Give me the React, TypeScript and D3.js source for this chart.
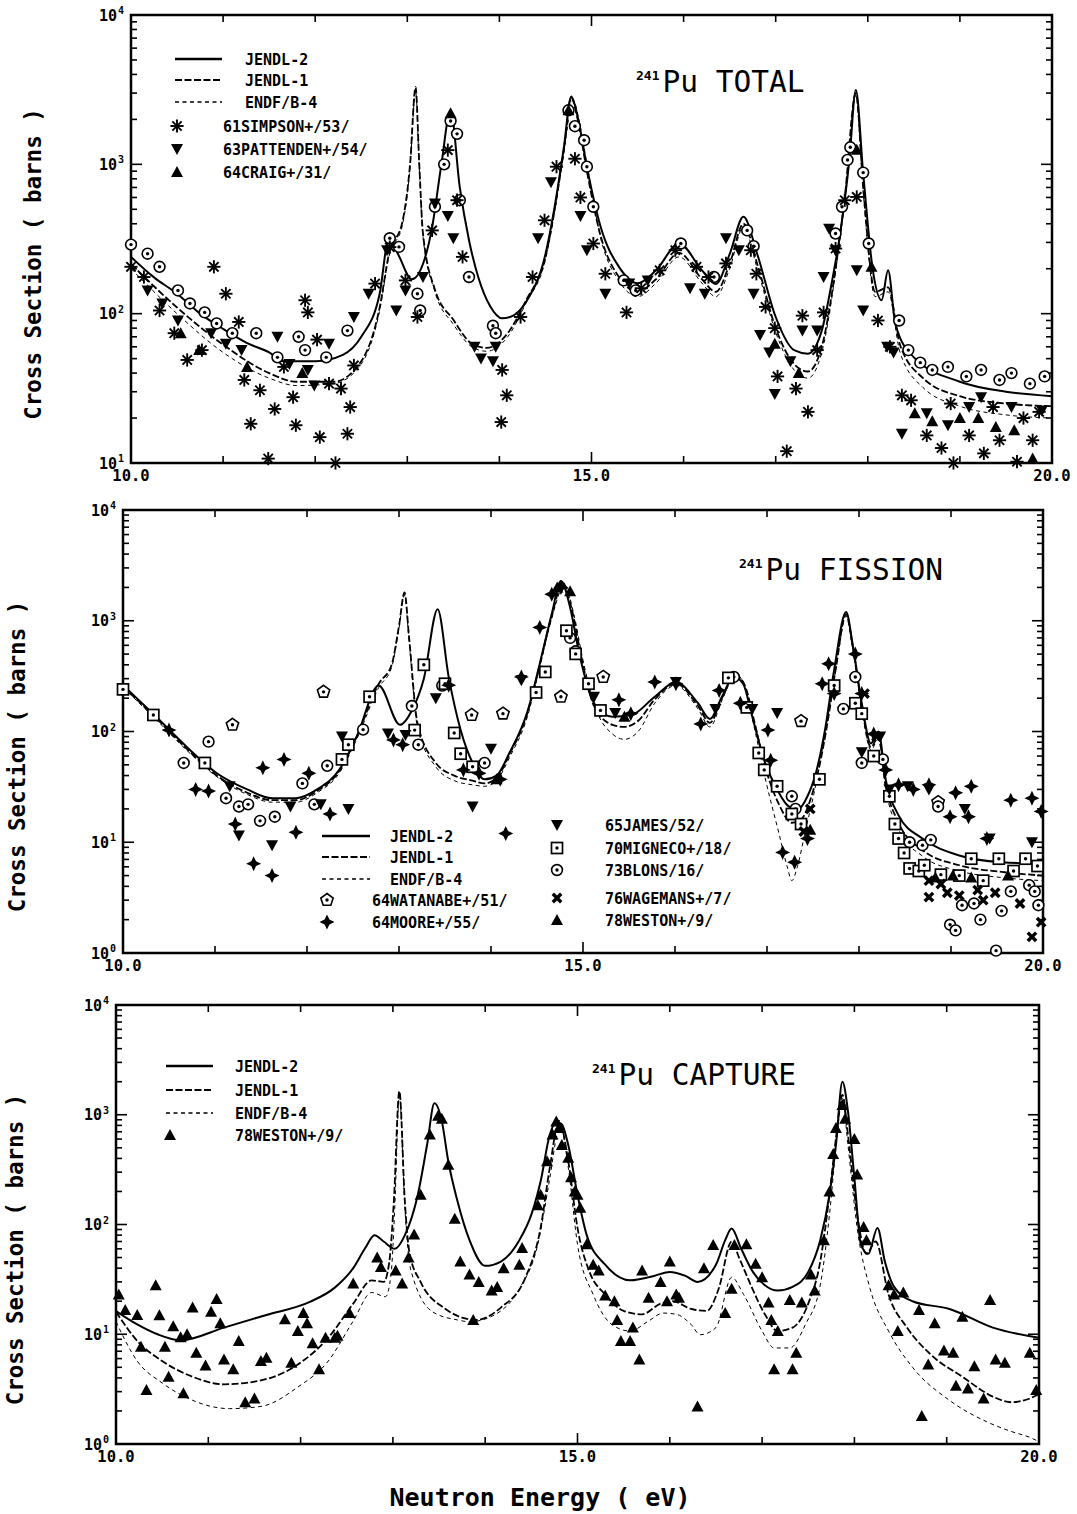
import React, { useEffect } from "react";
import * as d3 from "d3";

type Pt = [number, number];

// ---------- 241Pu TOTAL (energy eV, barns) ----------
const totJendl2: Pt[] = [[10.0,240],[10.25,175],[10.5,136],[10.75,100],[11.0,79],[11.25,64],[11.5,55],[11.66,48],[12.0,48],[12.3,53],[12.5,70],[12.7,136],[12.8,320],[12.9,250],[13.05,170],[13.17,215],[13.27,380],[13.37,1000],[13.47,2300],[13.57,700],[13.67,310],[13.77,176],[13.9,112],[14.03,93],[14.15,97],[14.3,123],[14.5,250],[14.6,520],[14.7,1300],[14.78,2850],[14.85,2080],[14.95,960],[15.1,380],[15.3,205],[15.5,160],[15.7,195],[15.95,295],[16.2,195],[16.35,158],[16.5,250],[16.65,445],[16.8,250],[17.0,95],[17.2,57],[17.35,54],[17.5,77],[17.6,151],[17.7,345],[17.8,1070],[17.87,3150],[17.95,870],[18.05,205],[18.15,123],[18.22,195],[18.3,85],[18.5,51],[19.0,35],[19.5,30],[20.0,28]];
const totJendl1: Pt[] = [[10.0,215],[10.5,110],[11.0,62],[11.5,40],[11.8,35],[12.2,35],[12.5,48],[12.7,110],[12.8,250],[12.95,420],[13.03,1000],[13.09,3300],[13.13,1000],[13.17,345],[13.3,145],[13.5,91],[13.7,63],[13.86,59],[14.09,74],[14.29,123],[14.5,240],[14.6,500],[14.7,1250],[14.78,2800],[14.85,2000],[14.95,900],[15.1,330],[15.3,175],[15.5,140],[15.7,170],[15.95,255],[16.2,170],[16.35,140],[16.5,215],[16.65,400],[16.8,215],[17.0,80],[17.2,46],[17.35,41],[17.5,60],[17.65,200],[17.75,600],[17.87,3000],[17.95,700],[18.08,140],[18.22,150],[18.35,62],[18.6,37],[19.0,28],[19.5,25],[20.0,24]];
const totEndf: Pt[] = [[10.0,200],[10.5,100],[11.0,55],[11.5,37],[11.8,33],[12.2,34],[12.5,46],[12.7,105],[12.8,240],[12.95,400],[13.03,950],[13.09,3100],[13.13,950],[13.17,330],[13.3,140],[13.5,85],[13.7,60],[13.86,56],[14.09,70],[14.29,118],[14.5,230],[14.6,480],[14.7,1200],[14.8,2700],[14.87,1900],[14.97,850],[15.1,320],[15.3,165],[15.5,130],[15.7,160],[15.95,240],[16.2,160],[16.35,130],[16.5,200],[16.65,380],[16.8,200],[17.0,75],[17.2,42],[17.35,37],[17.5,55],[17.65,190],[17.75,580],[17.87,2900],[17.95,650],[18.08,130],[18.22,140],[18.35,55],[18.6,32],[19.0,24],[19.5,21],[20.0,20]];
const totSimpson: Pt[] = [[10.0,206],[10.14,176],[10.31,105],[10.47,74],[10.61,49],[10.77,57],[10.9,206],[11.03,136],[11.17,88],[11.23,36],[11.3,18.3],[11.4,30.7],[11.56,23],[11.49,10.7],[11.66,44],[11.76,27.6],[11.79,17.9],[11.89,123],[11.92,102],[12.02,67],[12.05,14.9],[12.15,34],[12.22,10],[12.28,31.5],[12.35,15.7],[12.38,23.7],[12.42,45],[12.65,159],[12.81,279],[12.98,167],[13.11,95],[13.27,361],[13.44,1245],[13.54,575],[13.6,240],[14.03,42],[14.08,28.4],[14.02,18.8],[14.23,95],[14.36,176],[14.49,422],[14.62,964],[14.82,1090],[14.88,600],[15.02,295],[15.15,185],[15.38,102],[15.54,148],[15.74,195],[15.91,266],[16.14,206],[16.27,176],[16.46,217],[16.73,266],[16.79,185],[16.89,111],[16.99,80],[17.02,38],[17.12,12],[17.22,31.5],[17.29,97],[17.35,22],[17.45,57],[17.52,102],[17.65,273],[17.75,575],[17.88,605],[18.11,90],[18.24,60],[18.37,28.4],[18.47,26.3],[18.64,15.3],[18.8,12.6],[18.9,25],[18.93,10],[19.1,15.3],[19.26,11.6],[19.36,23.7],[19.43,14.2],[19.62,10.2],[19.69,20],[19.79,14.2],[19.86,22]];
const totPattenden: Pt[] = [[10.18,143],[10.34,117],[10.51,90],[10.87,74],[11.03,63],[11.2,57],[11.59,70],[11.72,46],[11.92,42],[11.99,33],[12.15,63],[12.42,95],[12.58,136],[12.78,266],[12.88,105],[12.98,143],[13.17,176],[13.3,546],[13.44,450],[13.5,320],[13.73,60],[13.8,50],[13.93,48],[13.96,60],[14.42,320],[14.56,760],[14.88,450],[14.95,266],[15.15,136],[15.41,159],[15.61,167],[16.07,148],[16.23,136],[16.46,320],[16.6,266],[16.76,136],[16.83,72],[16.93,55],[16.99,29],[17.16,48],[17.29,77],[17.45,77],[17.52,176],[17.58,370],[17.65,266],[17.88,195],[17.95,105],[18.21,60],[18.28,55],[18.37,15.7],[18.64,21.5],[18.87,17.9],[19.1,23.7],[19.23,27.6],[19.56,23.7],[19.89,22.5]];
const totCraig: Pt[] = [[10.54,74],[10.74,57],[11.26,44],[11.86,40],[13.47,2200],[14.75,2300],[16.99,63],[17.25,40],[17.88,1250],[18.04,206],[18.51,21.5],[18.7,19],[19.0,20],[19.2,20],[19.39,17.4],[19.59,16.6],[19.79,10.7]];
const totCircles: Pt[] = [[10.0,290],[10.18,252],[10.31,206],[10.51,143],[10.64,117],[10.8,102],[10.93,86],[11.1,74],[11.36,74],[11.59,51],[11.82,70],[11.89,57],[12.12,51],[12.35,77],[12.81,320],[12.91,280],[13.11,136],[13.14,105],[13.3,520],[13.4,1000],[13.47,1950],[13.54,1600],[13.57,575],[13.67,176],[13.93,83],[13.96,74],[14.75,2300],[14.82,1800],[14.92,1450],[14.95,964],[15.02,520],[15.35,167],[15.48,143],[15.97,295],[16.33,176],[16.69,361],[16.76,283],[17.65,344],[17.72,520],[17.78,1070],[17.81,1300],[17.95,880],[18.01,295],[18.34,90],[18.44,57],[18.57,47],[18.7,42],[18.87,44],[19.07,38],[19.23,42],[19.43,36],[19.56,40],[19.76,34],[19.92,38]];

// ---------- 241Pu FISSION ----------
const fisJendl2: Pt[] = [[10.0,262],[10.36,136],[10.69,73],[11.02,42],[11.35,30],[11.62,25],[11.88,25],[12.11,30],[12.35,45],[12.54,90],[12.78,260],[13.01,115],[13.14,155],[13.27,300],[13.42,1270],[13.54,311],[13.67,103],[13.8,52],[13.93,37],[14.06,40],[14.2,64],[14.4,155],[14.53,409],[14.66,1150],[14.76,2280],[14.86,1320],[14.96,502],[15.12,180],[15.32,136],[15.52,140],[15.78,206],[16.01,280],[16.25,180],[16.38,130],[16.51,206],[16.64,311],[16.74,270],[16.84,136],[16.97,55],[17.11,30],[17.24,21],[17.34,20],[17.44,26],[17.54,45],[17.63,103],[17.73,360],[17.86,1200],[17.93,622],[18.03,180],[18.13,78],[18.21,100],[18.29,37],[18.43,17.5],[18.69,10.8],[19.09,7.6],[19.55,6.6],[20.0,6.4]];
const fisJendl1: Pt[] = [[10.0,255],[10.36,132],[10.69,70],[11.02,40],[11.35,28],[11.62,24],[11.88,24],[12.11,29],[12.35,44],[12.54,90],[12.78,270],[12.92,400],[13.0,900],[13.06,1800],[13.11,700],[13.2,120],[13.4,52],[13.6,40],[13.8,36],[13.93,34],[14.06,38],[14.2,62],[14.4,150],[14.53,400],[14.66,1100],[14.78,2200],[14.88,1250],[14.98,480],[15.12,170],[15.32,115],[15.45,110],[15.6,125],[15.78,195],[16.01,270],[16.25,170],[16.38,120],[16.51,200],[16.66,320],[16.76,260],[16.86,125],[16.99,45],[17.13,22],[17.27,15],[17.37,16],[17.47,24],[17.56,45],[17.65,110],[17.75,380],[17.86,1150],[17.93,600],[18.03,170],[18.13,72],[18.21,90],[18.29,33],[18.43,15],[18.69,8.5],[19.09,6.2],[19.55,5.4],[20.0,5.0]];
const fisEndf: Pt[] = [[10.0,250],[10.36,128],[10.69,68],[11.02,39],[11.35,27],[11.62,23],[11.88,23],[12.11,28],[12.35,42],[12.54,85],[12.78,250],[12.92,380],[13.0,850],[13.06,1700],[13.11,650],[13.2,110],[13.4,48],[13.6,36],[13.8,33],[13.93,32],[14.06,36],[14.2,58],[14.4,140],[14.53,380],[14.66,1050],[14.8,2100],[14.9,1150],[15.0,440],[15.14,160],[15.32,95],[15.45,85],[15.6,100],[15.78,180],[16.01,260],[16.25,160],[16.38,110],[16.51,190],[16.66,330],[16.76,250],[16.86,110],[16.99,35],[17.13,12],[17.22,6],[17.27,4.5],[17.33,6],[17.42,13],[17.52,30],[17.63,95],[17.75,370],[17.86,1100],[17.93,560],[18.03,160],[18.13,68],[18.21,85],[18.29,30],[18.43,13],[18.69,7.5],[19.09,5.5],[19.55,4.8],[20.0,4.5]];
const fisWatanabe: Pt[] = [[11.19,115],[12.18,228],[13.79,141],[14.13,145],[14.76,206],[15.22,311],[17.37,124],[18.86,23]];
const fisMoore: Pt[] = [[10.5,103],[10.79,30],[10.93,29],[11.22,14.6],[11.42,6.4],[11.62,5.0],[11.52,47],[11.75,56],[11.88,12.3],[12.02,42],[12.25,18],[12.94,84],[13.04,76],[13.54,262],[13.7,45],[13.87,42],[14.1,37],[14.16,12],[14.33,311],[14.53,870],[14.66,1735],[14.76,2000],[15.39,193],[15.52,145],[15.78,280],[16.01,270],[16.28,117],[16.48,235],[16.71,180],[17.01,103],[17.04,55],[17.17,8.1],[17.3,6.6],[17.44,10.8],[17.6,270],[17.67,409],[17.73,220],[17.96,500],[18.03,220],[18.16,95],[18.29,45],[18.43,33],[18.59,30],[18.76,33],[18.99,17],[19.05,28],[19.19,17],[19.22,32],[19.39,10.8],[19.65,24],[19.88,25],[19.98,19]];
const fisJames: Pt[] = [[11.16,32],[11.26,11.5],[11.62,9.4],[11.82,21],[12.15,22],[12.45,20],[12.38,90],[12.88,96],[13.07,93],[13.4,200],[13.8,21],[14.0,70],[14.33,290],[15.12,206],[15.35,147],[16.01,280],[16.44,160],[16.84,160],[17.11,147],[18.03,65],[18.23,90],[18.33,30],[18.53,32],[18.76,30],[19.15,20],[19.42,10.8],[19.88,10]];
const fisMigneco: Pt[] = [[10.0,240],[10.33,141],[10.89,52],[12.45,76],[12.38,56],[12.68,206],[13.17,103],[13.27,400],[13.5,270],[13.6,97],[13.67,63],[13.8,48],[14.49,225],[14.59,345],[14.82,813],[14.92,502],[15.06,270],[15.19,155],[16.58,305],[16.78,165],[16.91,64],[16.97,45],[17.11,32],[17.27,18],[17.37,14.6],[17.57,37],[17.73,260],[17.96,180],[18.03,145],[18.16,60],[18.33,26],[18.39,14.6],[18.43,10.8],[18.49,8],[18.55,5.8],[18.65,5.5],[18.71,6.2],[18.89,5.1],[19.09,5],[19.22,7.1],[19.35,4.5],[19.52,7.1],[19.68,5.5],[19.81,7.1],[19.94,6.1]];
const fisBlons: Pt[] = [[10.66,52],[10.93,81],[11.12,25],[11.26,21],[11.36,22],[11.49,15.6],[11.65,17],[11.95,34],[12.08,22],[12.22,49],[12.61,104],[13.14,170],[13.21,76],[13.47,260],[13.93,52],[14.86,700],[14.92,530],[16.64,311],[17.27,26],[17.31,20],[17.83,160],[17.96,311],[18.03,52],[18.26,56],[18.55,10],[18.69,9.4],[18.78,10.5],[18.86,21],[18.99,1.8],[19.05,1.6],[19.12,2.7],[19.25,2.8],[19.32,2.0],[19.55,2.4],[19.65,3.6],[19.85,4.1],[19.91,3.6],[19.95,2.7],[19.49,1.05]];
const fisWagemans: Pt[] = [[17.4,12.5],[17.47,20],[18.06,220],[18.19,90],[18.76,4.5],[18.76,3.2],[18.89,4.2],[18.96,3.5],[19.09,3.3],[19.29,3.7],[19.35,3.0],[19.48,3.5],[19.75,2.8],[19.88,1.4],[19.98,1.9]];
const fisWeston: Pt[] = [[14.06,37],[14.72,2000],[14.86,1850],[15.45,136],[17.47,13],[18.83,4.8],[19.02,5],[19.22,4.8],[19.62,5]];

// ---------- 241Pu CAPTURE ----------
const capJendl2: Pt[] = [[10.0,16.3],[10.23,12.3],[10.45,10],[10.7,8.8],[11.17,11.5],[11.63,15],[12.1,19.7],[12.37,26.6],[12.57,40],[12.7,61],[12.8,80],[12.9,70],[13.02,60],[13.13,80],[13.27,187],[13.37,530],[13.45,1270],[13.53,875],[13.6,377],[13.7,163],[13.83,72],[14.0,42],[14.17,46],[14.37,72],[14.5,123],[14.6,246],[14.7,660],[14.77,865],[14.83,820],[14.9,530],[15.0,187],[15.1,80],[15.3,43],[15.57,31],[15.83,34],[16.0,37],[16.17,34],[16.3,30],[16.5,43],[16.6,72],[16.67,92],[16.77,61],[16.9,37],[17.03,28],[17.17,25],[17.33,27],[17.5,37],[17.63,72],[17.73,187],[17.8,530],[17.87,2000],[17.93,1080],[18.0,265],[18.07,66],[18.15,54],[18.25,93],[18.33,46],[18.43,27],[18.63,20],[19.03,17],[19.5,11.5],[20.0,9.3]];
const capJendl1: Pt[] = [[10.0,16],[10.23,8.7],[10.5,5.7],[10.83,4.1],[11.17,3.5],[11.57,3.8],[11.97,5.3],[12.3,9.3],[12.57,19],[12.77,31],[12.9,30],[12.96,45],[13.01,160],[13.07,1640],[13.13,160],[13.18,55],[13.3,30],[13.57,17],[13.77,14],[13.9,13.5],[14.17,17.5],[14.43,32],[14.6,93],[14.7,330],[14.8,880],[14.9,377],[15.0,93],[15.13,37],[15.3,23],[15.5,16.3],[15.7,15.2],[15.9,19],[16.03,20],[16.23,17],[16.4,16.3],[16.53,26],[16.67,70],[16.75,50],[16.87,29],[17.03,15.2],[17.17,10.7],[17.33,11.5],[17.5,19],[17.63,46],[17.73,187],[17.8,610],[17.87,1520],[17.93,660],[18.03,123],[18.13,54],[18.23,70],[18.37,23],[18.57,11.5],[18.83,6.5],[19.17,4.1],[19.5,2.7],[19.7,2.4],[19.9,2.6],[20.0,2.85]];
const capEndf: Pt[] = [[10.0,13],[10.23,5.7],[10.5,3.6],[10.83,2.5],[11.23,2.1],[11.57,2.2],[11.97,3.3],[12.3,5.7],[12.57,13.2],[12.77,24],[12.92,22],[12.98,35],[13.02,140],[13.07,1500],[13.13,140],[13.19,40],[13.43,16],[13.7,13.5],[13.83,13],[14.1,15],[14.37,26],[14.57,66],[14.7,265],[14.78,660],[14.82,757],[14.9,330],[15.0,66],[15.17,23],[15.37,12.3],[15.57,10.7],[15.77,13.2],[15.93,15.6],[16.07,15.2],[16.23,12.3],[16.33,9.9],[16.5,11.5],[16.67,33],[16.8,23],[17.0,10.7],[17.13,7.5],[17.3,7.5],[17.47,12.3],[17.63,28],[17.73,123],[17.81,610],[17.87,1420],[17.93,530],[18.03,93],[18.17,26],[18.37,10.7],[18.63,5],[19.03,2.5],[19.43,1.6],[19.7,1.3],[19.9,1.15],[20.0,1.05]];
const capWeston: Pt[] = [[10.03,23],[10.1,16.6],[10.23,15],[10.27,7.7],[10.33,3.1],[10.43,28],[10.47,14.9],[10.53,7.7],[10.57,4.1],[10.62,11.8],[10.7,9.4],[10.73,2.9],[10.77,10],[10.83,17.5],[10.87,6.8],[10.97,5.2],[11.03,16],[11.09,21],[11.13,12.6],[11.17,5.9],[11.27,4.8],[11.33,8.7],[11.4,2.4],[11.5,2.6],[11.57,5.7],[11.63,6.1],[11.83,13.7],[11.9,5.5],[11.97,10.7],[12.03,15.6],[12.07,12.6],[12.13,8.3],[12.2,4.8],[12.27,9.3],[12.37,9.3],[12.4,9.7],[12.53,15.6],[12.57,29],[12.83,50],[12.87,41],[13.03,38],[13.1,29],[13.17,50],[13.23,81],[13.3,187],[13.4,660],[13.49,980],[13.53,920],[13.6,350],[13.67,113],[13.73,46],[13.83,35],[13.87,13.5],[13.93,30],[14.07,25],[14.13,27],[14.2,40],[14.37,43],[14.4,61],[14.57,150],[14.6,187],[14.67,377],[14.73,660],[14.77,870],[14.8,757],[14.83,530],[14.9,405],[14.93,270],[14.97,200],[15.0,187],[15.03,142],[15.1,66],[15.17,43],[15.23,38],[15.3,22.5],[15.4,20],[15.43,13.5],[15.47,8.7],[15.57,8.7],[15.6,11.5],[15.67,5.9],[15.7,38],[15.77,21.5],[15.9,30],[15.97,20],[16.0,46],[16.07,23],[16.1,21.5],[16.3,2.2],[16.37,40],[16.47,65],[16.6,15.6],[16.67,26],[16.7,65],[16.83,66],[16.93,44],[17.0,33],[17.07,19.5],[17.1,13.5],[17.17,10.7],[17.13,4.8],[17.33,4.8],[17.37,6.8],[17.3,20.5],[17.43,19.5],[17.53,35],[17.57,25],[17.67,72],[17.73,200],[17.77,440],[17.8,757],[17.87,1230],[17.9,920],[18.0,600],[18.03,285],[18.1,95],[18.13,72],[18.37,28],[18.43,23],[18.47,10.7],[18.53,24],[18.7,16.6],[18.73,1.8],[18.8,5.3],[18.87,12.6],[18.97,7.1],[19.07,6.8],[19.1,3.4],[19.17,14.4],[19.23,3.2],[19.3,5.1],[19.4,2.6],[19.47,20.5],[19.53,5.9],[19.63,5.5],[19.9,6.8],[19.97,3.1]];

const xLabelValues = [10, 15, 20];
const xLabelText = ["10.0", "15.0", "20.0"];
const evalNames = ["JENDL-2", "JENDL-1", "ENDF/B-4"];

const MONO = "'DejaVu Sans Mono','Liberation Mono',monospace";

const lineStyles: Record<string, { w: number; dash?: string }> = {
  jendl2: { w: 2 },
  jendl1: { w: 1.8, dash: "7,2.5" },
  endf: { w: 1, dash: "4,3.5" },
};

function Marker({ kind, x, y }: { kind: string; x: number; y: number }) {
  if (kind === "asterisk") {
    const r = 6.6;
    return (
      <g stroke="black" strokeWidth={1.9}>
        {[0, 45, 90, 135].map((a) => {
          const t = (a * Math.PI) / 180;
          return <line key={a} x1={x - r * Math.cos(t)} y1={y - r * Math.sin(t)} x2={x + r * Math.cos(t)} y2={y + r * Math.sin(t)} />;
        })}
      </g>
    );
  }
  if (kind === "triDown") return <path d={`M${x - 6},${y - 5}L${x + 6},${y - 5}L${x},${y + 6}Z`} fill="black" />;
  if (kind === "triUp") return <path d={`M${x - 6},${y + 5}L${x + 6},${y + 5}L${x},${y - 6}Z`} fill="black" />;
  if (kind === "circleDot")
    return (
      <g>
        <circle cx={x} cy={y} r={5.4} fill="white" stroke="black" strokeWidth={1.6} />
        <circle cx={x} cy={y} r={1.7} fill="black" />
      </g>
    );
  if (kind === "squareDot")
    return (
      <g>
        <rect x={x - 5.5} y={y - 5.5} width={11} height={11} fill="white" stroke="black" strokeWidth={1.7} />
        <circle cx={x} cy={y} r={1.7} fill="black" />
      </g>
    );
  if (kind === "pentDot") {
    const pts = d3.range(5).map((i) => {
      const t = -Math.PI / 2 + (i * 2 * Math.PI) / 5;
      return `${x + 6.5 * Math.cos(t)},${y + 6.5 * Math.sin(t)}`;
    });
    return (
      <g>
        <polygon points={pts.join(" ")} fill="white" stroke="black" strokeWidth={1.6} />
        <circle cx={x} cy={y} r={1.7} fill="black" />
      </g>
    );
  }
  if (kind === "star4")
    return <path d={`M${x},${y - 7.5}L${x + 2.4},${y - 2.4}L${x + 7.5},${y}L${x + 2.4},${y + 2.4}L${x},${y + 7.5}L${x - 2.4},${y + 2.4}L${x - 7.5},${y}L${x - 2.4},${y - 2.4}Z`} fill="black" />;
  if (kind === "xBold")
    return (
      <g stroke="black" strokeWidth={3.4}>
        <line x1={x - 4.2} y1={y - 4.2} x2={x + 4.2} y2={y + 4.2} />
        <line x1={x - 4.2} y1={y + 4.2} x2={x + 4.2} y2={y - 4.2} />
      </g>
    );
  return null;
}

interface PanelCfg {
  id: string;
  left: number; right: number; top: number; bottom: number;
  yMin: number;
  title: string; titleX: number; titleY: number;
  ylabelX: number;
  curves: { style: string; data: Pt[] }[];
  scatter: { kind: string; data: Pt[] }[];
  legendLines: { x1: number; x2: number; tx: number; ys: number[] };
  legendMarks: { kind: string; label: string; x: number; tx: number; y: number }[];
}

const panels: PanelCfg[] = [
  {
    id: "tot", left: 131, right: 1052, top: 15, bottom: 463, yMin: 10,
    title: "Pu TOTAL", titleX: 636, titleY: 92, ylabelX: 41,
    curves: [
      { style: "endf", data: totEndf },
      { style: "jendl1", data: totJendl1 },
      { style: "jendl2", data: totJendl2 },
    ],
    scatter: [
      { kind: "circleDot", data: totCircles },
      { kind: "triUp", data: totCraig },
      { kind: "triDown", data: totPattenden },
      { kind: "asterisk", data: totSimpson },
    ],
    legendLines: { x1: 175, x2: 222, tx: 245, ys: [59, 80, 102] },
    legendMarks: [
      { kind: "asterisk", label: "61SIMPSON+/53/", x: 177, tx: 223, y: 126 },
      { kind: "triDown", label: "63PATTENDEN+/54/", x: 177, tx: 223, y: 149 },
      { kind: "triUp", label: "64CRAIG+/31/", x: 177, tx: 223, y: 172 },
    ],
  },
  {
    id: "fis", left: 123, right: 1043, top: 510, bottom: 953, yMin: 1,
    title: "Pu FISSION", titleX: 739, titleY: 580, ylabelX: 25,
    curves: [
      { style: "endf", data: fisEndf },
      { style: "jendl1", data: fisJendl1 },
      { style: "jendl2", data: fisJendl2 },
    ],
    scatter: [
      { kind: "pentDot", data: fisWatanabe },
      { kind: "circleDot", data: fisBlons },
      { kind: "squareDot", data: fisMigneco },
      { kind: "triDown", data: fisJames },
      { kind: "xBold", data: fisWagemans },
      { kind: "triUp", data: fisWeston },
      { kind: "star4", data: fisMoore },
    ],
    legendLines: { x1: 322, x2: 370, tx: 390, ys: [836, 857, 879] },
    legendMarks: [
      { kind: "pentDot", label: "64WATANABE+/51/", x: 327, tx: 372, y: 900 },
      { kind: "star4", label: "64MOORE+/55/", x: 327, tx: 372, y: 922 },
      { kind: "triDown", label: "65JAMES/52/", x: 557, tx: 605, y: 825 },
      { kind: "squareDot", label: "70MIGNECO+/18/", x: 557, tx: 605, y: 848 },
      { kind: "circleDot", label: "73BLONS/16/", x: 557, tx: 605, y: 870 },
      { kind: "xBold", label: "76WAGEMANS+/7/", x: 557, tx: 605, y: 898 },
      { kind: "triUp", label: "78WESTON+/9/", x: 557, tx: 605, y: 920 },
    ],
  },
  {
    id: "cap", left: 116, right: 1039, top: 1005, bottom: 1444, yMin: 1,
    title: "Pu CAPTURE", titleX: 592, titleY: 1085, ylabelX: 23,
    curves: [
      { style: "endf", data: capEndf },
      { style: "jendl1", data: capJendl1 },
      { style: "jendl2", data: capJendl2 },
    ],
    scatter: [{ kind: "triUp", data: capWeston }],
    legendLines: { x1: 166, x2: 213, tx: 235, ys: [1066, 1090, 1113] },
    legendMarks: [{ kind: "triUp", label: "78WESTON+/9/", x: 170, tx: 235, y: 1135 }],
  },
];

function Panel({ p }: { p: PanelCfg }) {
  const x = d3.scaleLinear().domain([10, 20]).range([p.left, p.right]);
  const y = d3.scaleLog().domain([p.yMin, 1e4]).range([p.bottom, p.top]);
  const line = d3
    .line<Pt>()
    .x((d) => x(d[0]))
    .y((d) => y(d[1]))
    .curve(d3.curveMonotoneX);
  const yTicks = y.ticks();
  const decades = d3.range(Math.round(Math.log10(p.yMin)), 5);
  const xMinor = d3.range(11, 20);
  const styleKeys = ["jendl2", "jendl1", "endf"];

  return (
    <g>
      <defs>
        <clipPath id={`clip-${p.id}`}>
          <rect x={p.left} y={p.top} width={p.right - p.left} height={p.bottom - p.top} />
        </clipPath>
      </defs>
      {/* frame */}
      <rect x={p.left} y={p.top} width={p.right - p.left} height={p.bottom - p.top} fill="none" stroke="black" strokeWidth={2.5} />
      {/* x ticks every 1 eV, top and bottom */}
      {xMinor.map((e) => (
        <g key={e} stroke="black" strokeWidth={1.6}>
          <line x1={x(e)} x2={x(e)} y1={p.bottom} y2={p.bottom - (e === 15 ? 11 : 7)} />
          <line x1={x(e)} x2={x(e)} y1={p.top} y2={p.top + (e === 15 ? 11 : 7)} />
        </g>
      ))}
      {/* y ticks, left and right */}
      {yTicks.map((t, i) => {
        const major = Math.abs(Math.log10(t) - Math.round(Math.log10(t))) < 1e-9;
        const len = major ? 11 : 6;
        return (
          <g key={i} stroke="black" strokeWidth={1.6}>
            <line x1={p.left} x2={p.left + len} y1={y(t)} y2={y(t)} />
            <line x1={p.right} x2={p.right - len} y1={y(t)} y2={y(t)} />
          </g>
        );
      })}
      {/* y decade labels */}
      {decades.map((k) => (
        <text key={k} fontFamily={MONO} fontWeight="bold" fontSize={15} fill="black">
          <tspan x={p.left - 14} y={y(Math.pow(10, k)) + 5.5} textAnchor="end">10</tspan>
          <tspan x={p.left - 13} y={y(Math.pow(10, k)) - 1} fontSize={10}>{k}</tspan>
        </text>
      ))}
      {/* x labels */}
      {xLabelValues.map((v, i) => (
        <text key={v} x={x(v)} y={p.bottom + 18} textAnchor="middle" fontFamily={MONO} fontWeight="bold" fontSize={15.5}>
          {xLabelText[i]}
        </text>
      ))}
      {/* evaluated curves */}
      <g clipPath={`url(#clip-${p.id})`} fill="none" stroke="black">
        {p.curves.map((c) => (
          <path key={c.style} d={line(c.data) || ""} strokeWidth={lineStyles[c.style].w} strokeDasharray={lineStyles[c.style].dash} />
        ))}
      </g>
      {/* measurements */}
      {p.scatter.map((s) =>
        s.data.map((d, i) => <Marker key={s.kind + i} kind={s.kind} x={x(d[0])} y={y(d[1])} />)
      )}
      {/* legend: evaluations */}
      {styleKeys.map((k, i) => (
        <g key={k}>
          <line x1={p.legendLines.x1} x2={p.legendLines.x2} y1={p.legendLines.ys[i]} y2={p.legendLines.ys[i]} stroke="black" strokeWidth={lineStyles[k].w + 0.4} strokeDasharray={lineStyles[k].dash} />
          <text x={p.legendLines.tx} y={p.legendLines.ys[i] + 5.5} fontFamily={MONO} fontWeight="bold" fontSize={15}>
            {evalNames[i]}
          </text>
        </g>
      ))}
      {/* legend: measurements */}
      {p.legendMarks.map((m) => (
        <g key={m.label}>
          <rect x={m.x - 8} y={m.y - 8} width={16} height={16} fill="white" />
          <Marker kind={m.kind} x={m.x} y={m.y} />
          <text x={m.tx} y={m.y + 5.5} fontFamily={MONO} fontWeight="bold" fontSize={15}>
            {m.label}
          </text>
        </g>
      ))}
      {/* title */}
      <text x={p.titleX} y={p.titleY} fontFamily={MONO} fontSize={29.5} fill="black">
        <tspan fontSize={13} fontWeight="bold" dy={-12}>241</tspan>
        <tspan dx={3} dy={12}>{p.title}</tspan>
      </text>
      {/* y axis label */}
      <text
        transform={`translate(${p.ylabelX},${(p.top + p.bottom) / 2 + 25}) rotate(-90)`}
        textAnchor="middle"
        fontFamily={MONO}
        fontWeight="bold"
        fontSize={22.5}
      >
        Cross Section ( barns )
      </text>
    </g>
  );
}

export default function App() {
  useEffect(() => {
    document.body.style.margin = "0";
  }, []);
  return (
    <svg width={1077} height={1514} style={{ display: "block", background: "white" }}>
      <rect width={1077} height={1514} fill="white" />
      {panels.map((p) => (
        <Panel key={p.id} p={p} />
      ))}
      <text x={540} y={1506} textAnchor="middle" fontFamily={MONO} fontWeight="bold" fontSize={25}>
        Neutron Energy ( eV)
      </text>
    </svg>
  );
}
